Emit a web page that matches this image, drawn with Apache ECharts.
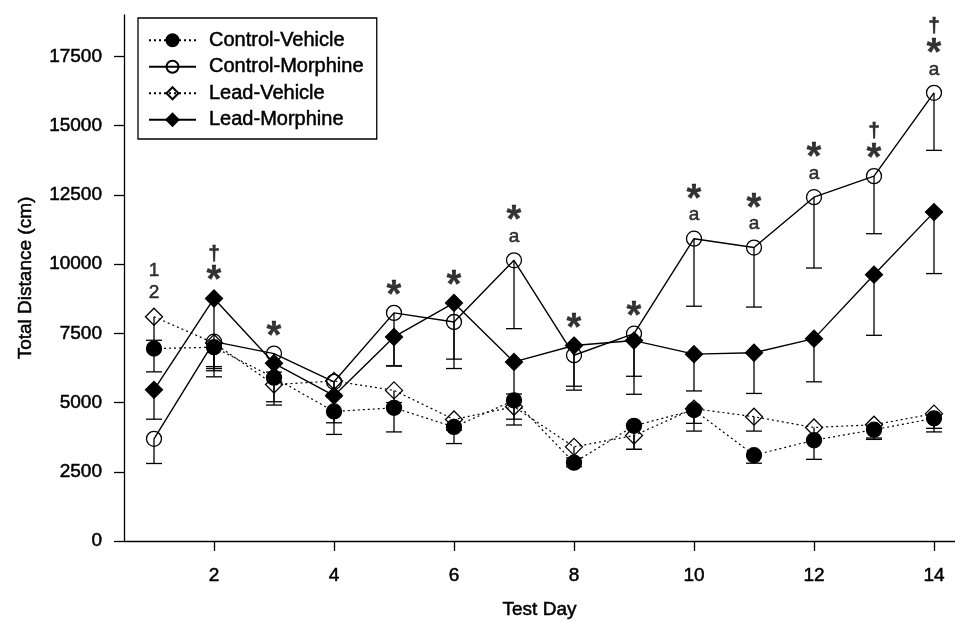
<!DOCTYPE html>
<html>
<head>
<meta charset="utf-8">
<script src="https://cdn.jsdelivr.net/npm/echarts@6/dist/echarts.min.js"></script>
<style>
  html, body { margin: 0; padding: 0; background: #fff; }
  #main { width: 955px; height: 622px; }
</style>
</head>
<body>
<div id="main"></div>
<script>
var days = [1, 2, 3, 4, 5, 6, 7, 8, 9, 10, 11, 12, 13, 14]

var controlVehicle = [6950, 7000, 5900, 4680, 4810, 4120, 5080, 2830, 4160, 4730, 3100, 3640, 4020, 4430]
var controlVehicleLow = [6110, 5930, 5030, 3850, 3940, 3520, 4400, 2680, 3310, 3970, 2810, 2950, 3720, 3940]
var controlMorphine = [3690, 7200, 6770, 5750, 8240, 7910, 10140, 6710, 7490, 10920, 10600, 12420, 13180, 16190]
var controlMorphineLow = [2800, 6150, 6100, 5200, 6330, 6570, 7670, 5590, 5950, 8480, 8450, 9860, 11100, 14110]
var leadVehicle = [8100, 7150, 5650, 5780, 5440, 4390, 4850, 3400, 3810, 4780, 4490, 4100, 4200, 4600]
var leadVehicleLow = [7250, 6300, 4910, 5300, 5000, 4000, 4190, 3000, 3310, 4250, 3970, 3700, 3670, 4070]
var leadMorphine = [5460, 8760, 6420, 5250, 7370, 8600, 6470, 7060, 7240, 6750, 6800, 7310, 9620, 11880]
var leadMorphineLow = [4400, 6230, 5900, 4270, 6320, 6230, 5310, 5450, 5300, 5420, 5330, 5750, 7430, 9660]

// significance marks above each day
var markDays = [1, 2, 3, 5, 6, 7, 8, 9, 10, 11, 12, 13, 14]
var markTexts = ['1\n2', '†\n*', '*', '*', '*', '*\na', '*', '*', '*\na', '*\na', '*\na', '†\n*', '†\n*\na']

var xTicks = [2, 4, 6, 8, 10, 12, 14]
var yTicks = [0, 2500, 5000, 7500, 10000, 12500, 15000, 17500]

var font = '"Liberation Sans", Arial, sans-serif'
// scanned print looks heavier than a plain regular face
var heavy = { textBorderColor: '#000', textBorderWidth: 0.5 }

function txt (size, extra) {
  return Object.assign({ fontSize: size, color: '#000', fontFamily: font }, heavy, extra || {})
}

function pairs (vals) {
  return days.map(function (d, i) { return [d, vals[i]] })
}

function lineSeries (name, vals, symbol, filled, dotted) {
  return {
    name: name,
    type: 'line',
    data: pairs(vals),
    symbol: symbol,
    symbolSize: symbol === 'diamond' ? 17 : 15,
    z: 3,
    lineStyle: { color: '#000', width: dotted ? 1.2 : 1.4, type: dotted ? [2, 3] : 'solid' },
    itemStyle: {
      color: filled ? '#000' : 'rgba(255,255,255,0)',
      borderColor: '#000',
      borderWidth: 1.3
    },
    emphasis: { disabled: true }
  }
}

function errSeries (vals, lows) {
  return {
    type: 'custom',
    silent: true,
    z: 4,
    data: days.map(function (d, i) { return [d, vals[i], lows[i]] }),
    encode: { x: 0, y: [1, 2] },
    renderItem: function (params, api) {
      var top = api.coord([api.value(0), api.value(1)])
      var bot = api.coord([api.value(0), api.value(2)])
      var half = 8
      return {
        type: 'group',
        children: [
          { type: 'line', shape: { x1: top[0], y1: top[1], x2: bot[0], y2: bot[1] }, style: { stroke: '#000', lineWidth: 1.3 } },
          { type: 'line', shape: { x1: bot[0] - half, y1: bot[1], x2: bot[0] + half, y2: bot[1] }, style: { stroke: '#000', lineWidth: 1.3 } }
        ]
      }
    }
  }
}

var markData = markDays.map(function (d, i) {
  var k = days.indexOf(d)
  var top = Math.max(controlVehicle[k], controlMorphine[k], leadVehicle[k], leadMorphine[k])
  return [d, top, markTexts[i]]
})

var myChart = echarts.init(document.getElementById('main'))
var option = {
  backgroundColor: '#fff',
  animation: false,
  textStyle: { fontFamily: font, color: '#000' },
  grid: { left: 124, right: 0, top: 15, bottom: 81, outerBoundsMode: 'none' },
  legend: {
    orient: 'vertical',
    left: 138,
    top: 18,
    padding: [12, 13, 9, 10],
    itemGap: 6,
    itemWidth: 47,
    itemHeight: 15,
    backgroundColor: '#fff',
    borderColor: '#000',
    borderWidth: 1.3,
    borderRadius: 0,
    selectedMode: false,
    textStyle: txt(20, { lineHeight: 20, padding: [0, 0, 0, 8] }),
    data: ['Control-Vehicle', 'Control-Morphine', 'Lead-Vehicle', 'Lead-Morphine']
  },
  xAxis: {
    type: 'value',
    min: 0.5,
    max: 14.35,
    name: 'Test Day',
    nameLocation: 'middle',
    nameGap: 59,
    nameTextStyle: txt(19),
    axisLine: { show: true, lineStyle: { color: '#000', width: 1.3 } },
    axisTick: { show: true, length: 10, customValues: xTicks, lineStyle: { color: '#000', width: 1.3 } },
    axisLabel: txt(19, { customValues: xTicks, margin: 25 }),
    splitLine: { show: false }
  },
  yAxis: {
    type: 'value',
    min: 0,
    max: 19000,
    name: 'Total Distance (cm)',
    nameLocation: 'middle',
    nameGap: 89,
    nameTextStyle: txt(19),
    axisLine: { show: true, lineStyle: { color: '#000', width: 1.3 } },
    axisTick: { show: true, length: 10, customValues: yTicks, lineStyle: { color: '#000', width: 1.3 } },
    axisLabel: txt(19, {
      customValues: yTicks,
      margin: 22,
      formatter: function (v) { return String(v) }
    }),
    splitLine: { show: false }
  },
  series: [
    lineSeries('Control-Vehicle', controlVehicle, 'circle', true, true),
    lineSeries('Control-Morphine', controlMorphine, 'circle', false, false),
    lineSeries('Lead-Vehicle', leadVehicle, 'diamond', false, true),
    lineSeries('Lead-Morphine', leadMorphine, 'diamond', true, false),
    errSeries(controlVehicle, controlVehicleLow),
    errSeries(controlMorphine, controlMorphineLow),
    errSeries(leadVehicle, leadVehicleLow),
    errSeries(leadMorphine, leadMorphineLow),
    {
      type: 'scatter',
      silent: true,
      symbolSize: 1,
      itemStyle: { color: 'rgba(0,0,0,0)' },
      data: markData,
      label: {
        show: true,
        position: 'top',
        distance: 12,
        formatter: function (p) {
          return p.data[2].split('\n').map(function (t) {
            var k = t === '*' ? 's' : (t === '†' ? 'd' : 'n')
            return '{' + k + '|' + t + '}'
          }).join('\n')
        },
        rich: {
          s: txt(38, { fontWeight: 'bold', lineHeight: 22, padding: [14, 0, 0, 0], textBorderWidth: 0.3 }),
          d: txt(21, { fontWeight: 'bold', lineHeight: 20 }),
          n: txt(19, { lineHeight: 22 })
        }
      }
    }
  ]
}
myChart.setOption(option)
window.onresize = myChart.resize
</script>
</body>
</html>
